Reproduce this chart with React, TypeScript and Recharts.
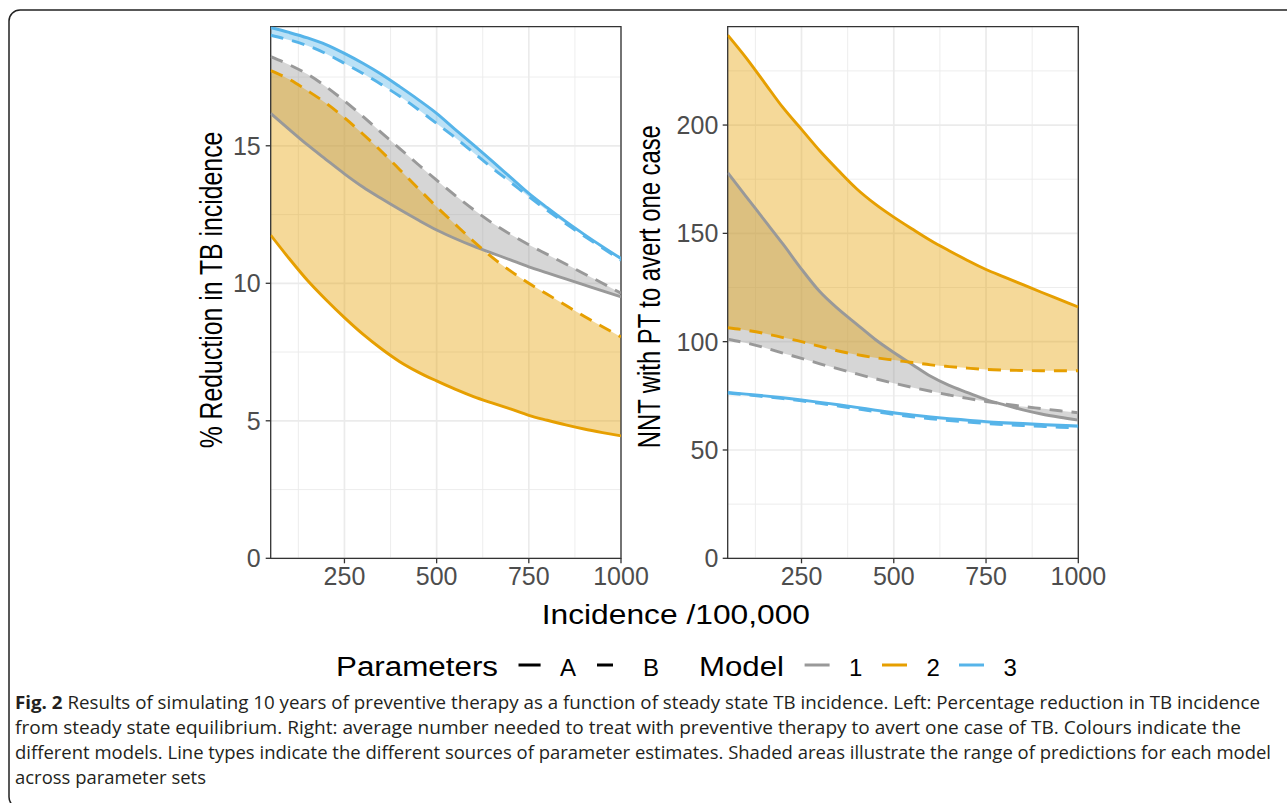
import React from 'react';
import { ComposedChart, Area, Line, XAxis, YAxis, CartesianGrid, ReferenceArea } from 'recharts';

// ---------- data ----------
const incidence = [50, 100, 150, 200, 250, 300, 350, 400, 450, 500, 550, 600, 650, 700, 750, 800, 850, 900, 950, 1000];

// Left panel: % reduction in TB incidence
const redM1A = [16.18, 15.6, 15.03, 14.5, 13.98, 13.5, 13.08, 12.68, 12.3, 11.94, 11.63, 11.35, 11.1, 10.85, 10.6, 10.38, 10.16, 9.94, 9.72, 9.51];
const redM1B = [18.24, 17.95, 17.6, 17.15, 16.63, 16.07, 15.48, 14.9, 14.32, 13.75, 13.2, 12.68, 12.2, 11.78, 11.4, 11.05, 10.7, 10.35, 10.0, 9.64];
const redM2A = [11.75, 10.9, 10.1, 9.4, 8.75, 8.15, 7.62, 7.15, 6.77, 6.45, 6.15, 5.88, 5.65, 5.43, 5.2, 5.02, 4.85, 4.7, 4.57, 4.45];
const redM2B = [17.73, 17.42, 17.0, 16.55, 16.02, 15.43, 14.8, 14.13, 13.45, 12.78, 12.15, 11.53, 10.95, 10.45, 10.0, 9.6, 9.2, 8.8, 8.42, 8.05];
const redM3A = [19.3, 19.12, 18.92, 18.68, 18.36, 18.0, 17.6, 17.15, 16.68, 16.18, 15.6, 15.03, 14.45, 13.86, 13.27, 12.75, 12.25, 11.78, 11.33, 10.9];
const redM3B = [19.02, 18.85, 18.64, 18.35, 18.0, 17.63, 17.23, 16.8, 16.32, 15.81, 15.3, 14.75, 14.2, 13.68, 13.15, 12.65, 12.17, 11.72, 11.28, 10.84];

// Right panel: NNT with PT to avert one case
const nntM1A = [178, 167, 156, 145, 133.5, 123, 115, 108, 101, 95, 89.5, 84, 79.8, 76.5, 73.3, 70.8, 68.5, 66.6, 65.1, 63.8];
const nntM1B = [101.1, 99.4, 97.2, 94.7, 92.3, 89.8, 87.4, 85.1, 82.9, 80.8, 78.9, 77.1, 75.4, 73.8, 72.4, 71.2, 70.1, 69.1, 68.1, 67.2];
const nntM2A = [241.5, 231, 219.5, 208, 198, 188, 179, 170.5, 163.5, 157.5, 152, 146.7, 142, 137.5, 133.3, 129.8, 126.3, 122.8, 119.4, 116];
const nntM2B = [106.4, 105.3, 103.8, 101.9, 100, 97.8, 95.7, 94, 92.6, 91.5, 90.4, 89.3, 88.5, 87.8, 87.2, 86.9, 86.7, 86.6, 86.6, 86.6];
const nntM3A = [76.6, 75.8, 75, 74.1, 73.1, 72, 70.9, 69.7, 68.4, 67.2, 66.2, 65.3, 64.5, 63.8, 63.1, 62.6, 62.2, 61.8, 61.4, 61.1];
const nntM3B = [76.3, 75.5, 74.6, 73.7, 72.7, 71.5, 70.3, 69.0, 67.7, 66.4, 65.3, 64.4, 63.6, 62.9, 62.2, 61.7, 61.3, 60.9, 60.5, 60.2];

const xTicks = [250, 500, 750, 1000];
const xMinorTicks = [125, 375, 625, 875];
const redTicks = [0, 5, 10, 15];
const redMinorTicks = [2.5, 7.5, 12.5, 17.5];
const nntTicks = [0, 50, 100, 150, 200];
const nntMinorTicks = [25, 75, 125, 175, 225];

const modelColors = ['#999999', '#E69F00', '#56B4E9'];
const modelLabels = ['1', '2', '3'];
const paramLabels = ['A', 'B'];

const captionLines = [
  'from steady state equilibrium. Right: average number needed to treat with preventive therapy to avert one case of TB. Colours indicate the',
  'different models. Line types indicate the different sources of parameter estimates. Shaded areas illustrate the range of predictions for each model',
  'across parameter sets',
];

const FONT = "'Liberation Sans', Arial, Helvetica, sans-serif";
const CAPTION_FONT = "'Open Sans', 'Noto Sans', sans-serif";

function buildRows(m1A: number[], m1B: number[], m2A: number[], m2B: number[], m3A: number[], m3B: number[]) {
  return incidence.map((x, i) => ({
    x,
    m1A: m1A[i], m1B: m1B[i],
    m2A: m2A[i], m2B: m2B[i],
    m3A: m3A[i], m3B: m3B[i],
    r1: [Math.min(m1A[i], m1B[i]), Math.max(m1A[i], m1B[i])],
    r2: [Math.min(m2A[i], m2B[i]), Math.max(m2A[i], m2B[i])],
    r3: [Math.min(m3A[i], m3B[i]), Math.max(m3A[i], m3B[i])],
  }));
}

const redRows = buildRows(redM1A, redM1B, redM2A, redM2B, redM3A, redM3B);
const nntRows = buildRows(nntM1A, nntM1B, nntM2A, nntM2B, nntM3A, nntM3B);

const DASH = '13 9';
const LW = 2.9;

function Panel(props: {
  rows: any[]; yMax: number; yTicks: number[]; yMinor: number[];
  left: number; width: number; yAxisWidth: number; marginRight: number; tickMargin: number;
}) {
  const { rows, yMax, yTicks, yMinor, left, width, yAxisWidth, marginRight, tickMargin } = props;
  const tickStyle = { fill: '#4D4D4D', fontSize: 25, fontFamily: FONT };
  return (
    <div style={{ position: 'absolute', left, top: 0, width, height: 600 }}>
      <ComposedChart width={width} height={600} data={rows}
        margin={{ top: 26.7, right: marginRight, bottom: 0, left: 0 }}>
        <CartesianGrid horizontalValues={yMinor} verticalValues={xMinorTicks} stroke="#EBEBEB" strokeWidth={0.9} />
        <CartesianGrid horizontalValues={yTicks} verticalValues={xTicks} stroke="#EBEBEB" strokeWidth={1.7} />
        <XAxis type="number" dataKey="x" domain={[50, 1000]} ticks={xTicks} interval={0} allowDataOverflow
          height={41.7} tickSize={5} tickMargin={4} axisLine={false}
          tickLine={{ stroke: '#333333', strokeWidth: 1.3 }} tick={tickStyle} />
        <YAxis type="number" domain={[0, yMax]} ticks={yTicks} interval={0} allowDataOverflow
          width={yAxisWidth} tickSize={5} tickMargin={tickMargin} axisLine={false}
          tickLine={{ stroke: '#333333', strokeWidth: 1.3 }} tick={tickStyle} />
        {['r1', 'r2', 'r3'].map((k, i) => (
          <Area key={k} type="monotone" dataKey={k} stroke="none" fill={modelColors[i]} fillOpacity={0.4}
            isAnimationActive={false} dot={false} activeDot={false} />
        ))}
        {[1, 2, 3].map((m, i) => (
          <Line key={'A' + m} type="monotone" dataKey={'m' + m + 'A'} stroke={modelColors[i]} strokeWidth={LW}
            dot={false} activeDot={false} isAnimationActive={false} />
        ))}
        {[1, 2, 3].map((m, i) => (
          <Line key={'B' + m} type="monotone" dataKey={'m' + m + 'B'} stroke={modelColors[i]} strokeWidth={LW}
            strokeDasharray={DASH} dot={false} activeDot={false} isAnimationActive={false} />
        ))}
        <ReferenceArea x1={50} x2={1000} y1={0} y2={yMax} fill="none" stroke="#333333" strokeWidth={1.3}
          ifOverflow="visible" />
      </ComposedChart>
    </div>
  );
}

export default function App() {
  return (
    <div style={{ position: 'absolute', left: 0, top: 0, width: 1287, height: 803, background: '#ffffff', overflow: 'hidden' }}>
      <Panel rows={redRows} yMax={19.33} yTicks={redTicks} yMinor={redMinorTicks}
        left={0} width={680} yAxisWidth={270.7} marginRight={59} tickMargin={5} />
      <Panel rows={nntRows} yMax={245.4} yTicks={nntTicks} yMinor={nntMinorTicks}
        left={640} width={500} yAxisWidth={87.7} marginRight={61.7} tickMargin={4.4} />
      <svg width={1287} height={803} style={{ position: 'absolute', left: 0, top: 0, pointerEvents: 'none' }}>
        <rect x={9} y={10} width={1400} height={798} rx={11} ry={11} fill="none" stroke="#222222" strokeWidth={1.5} />
        {/* axis titles */}
        <text transform="translate(221.5,290) scale(1.22,1) rotate(-90)" textAnchor="middle" fontFamily={FONT}
          fontSize={25} fill="#000" textLength={316.7} lengthAdjust="spacingAndGlyphs">% Reduction in TB incidence</text>
        <text transform="translate(660,286.7) scale(1.22,1) rotate(-90)" textAnchor="middle" fontFamily={FONT}
          fontSize={25} fill="#000" textLength={323} lengthAdjust="spacingAndGlyphs">NNT with PT to avert one case</text>
        <text x={541.7} y={624} fontFamily={FONT} fontSize={27} fill="#000" textLength={268.3}
          lengthAdjust="spacingAndGlyphs">Incidence /100,000</text>
        {/* legend */}
        <text x={336} y={676} fontFamily={FONT} fontSize={27} fill="#000" textLength={162}
          lengthAdjust="spacingAndGlyphs">Parameters</text>
        <line x1={518.5} x2={540.6} y1={665} y2={665} stroke="#000" strokeWidth={3} />
        <text x={560} y={676} fontFamily={FONT} fontSize={24} fill="#000">{paramLabels[0]}</text>
        <line x1={597} x2={613} y1={665} y2={665} stroke="#000" strokeWidth={3} />
        <text x={643} y={676} fontFamily={FONT} fontSize={24} fill="#000">{paramLabels[1]}</text>
        <text x={699} y={676} fontFamily={FONT} fontSize={27} fill="#000" textLength={85}
          lengthAdjust="spacingAndGlyphs">Model</text>
        {[804.6, 882, 959].map((x, i) => (
          <g key={i}>
            <line x1={x} x2={x + 25} y1={665} y2={665} stroke={modelColors[i]} strokeWidth={3} />
            <text x={x + 44.5} y={676} fontFamily={FONT} fontSize={24} fill="#000">{modelLabels[i]}</text>
          </g>
        ))}
        {/* caption */}
        <g fontFamily={CAPTION_FONT} fontSize={18} fill="#231F20">
          <text x={15} y={709} textLength={1245} lengthAdjust="spacingAndGlyphs">
            <tspan fontWeight="bold">{'Fig. 2'}</tspan>
            {' Results of simulating 10 years of preventive therapy as a function of steady state TB incidence. Left: Percentage reduction in TB incidence'}
          </text>
          <text x={15} y={734} textLength={1226} lengthAdjust="spacingAndGlyphs">{captionLines[0]}</text>
          <text x={15} y={759} textLength={1256} lengthAdjust="spacingAndGlyphs">{captionLines[1]}</text>
          <text x={15} y={784} textLength={191} lengthAdjust="spacingAndGlyphs">{captionLines[2]}</text>
        </g>
      </svg>
    </div>
  );
}
